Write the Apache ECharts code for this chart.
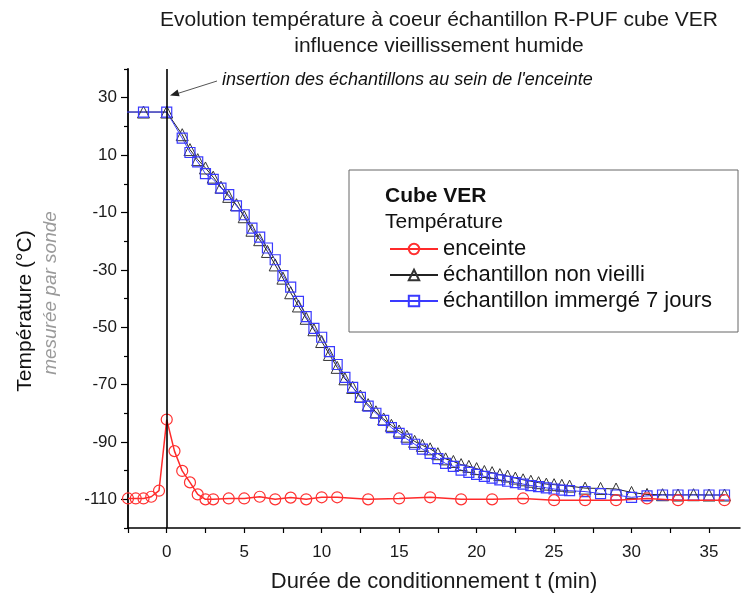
<!DOCTYPE html>
<html>
<head>
<meta charset="utf-8">
<script src="https://cdn.jsdelivr.net/npm/echarts@6/dist/echarts.min.js"></script>
<style>
html,body{margin:0;padding:0;background:#fff;}
#c{width:742px;height:598px;}
</style>
</head>
<body>
<div id="c"></div>
<script>
// ---- data ----
const titleLines = ['Evolution température à coeur échantillon R-PUF cube VER', 'influence vieillissement humide'];
const xTickValues = [-2.5, 0, 2.5, 5, 7.5, 10, 12.5, 15, 17.5, 20, 22.5, 25, 27.5, 30, 32.5, 35];
const xLabelValues = [0, 5, 10, 15, 20, 25, 30, 35];
const yLabelValues = [-110, -90, -70, -50, -30, -10, 10, 30];

const redT = [-2.5,-2,-1.5,-1,-0.5,0,0.5,1,1.5,2,2.5,3,4,5,6,7,8,9,10,11,13,15,17,19,21,23,25,27,29,31,33,36];
const redV = [-109.7,-109.7,-109.7,-109.1,-107.0,-82.2,-93.2,-100.1,-104.1,-108.3,-110.0,-110.0,
  -109.7,-109.7,-109.1,-110.0,-109.4,-110.0,-109.3,-109.3,
  -110.0,-109.7,-109.3,-110.0,-110.0,-109.7,-110.3,-110.3,-110.3,-109.7,-110.3,-110.3];

const sampleT = [-3,-1.5,0,1,1.5,2,2.5,3,3.5,4,4.5,5,5.5,6,6.5,7,7.5,8,8.5,9,9.5,10,10.5,11,11.5,12,12.5,13,13.5,14,14.5,15,15.5,16,16.5,17,17.5,18,18.5,19,19.5,20,20.5,21,21.5,22,22.5,23,23.5,24,24.5,25,25.5,26,27,28,29,30,31,32,33,34,35,36];
const blackV = [25, 25, 25,
  17.1, 11.9, 8.4, 5.5, 2.3, -1.2, -4.4, -7.3, -11.5, -16.2,
  -19.5, -23.6, -28.3, -32.9, -38.0, -42.6, -46.9, -50.9, -55.0, -59.5,
  -64.0, -68.0, -71.0, -74.0, -77.0, -79.5, -82.0, -84.2, -86.2, -88.0,
  -89.8, -91.2, -92.4, -94.1, -95.9, -96.8, -97.9, -98.5, -99.3, -100.3,
  -100.7, -101.4, -101.9, -102.6, -103.2, -103.7, -104.2, -104.7, -104.9, -105.1,
  -105.4,
  -106.1, -106.2, -106.4, -107.6, -108.3, -108.4, -108.5, -108.4, -108.5, -108.5];
const blueV = [25, 25, 25,
  15.9, 10.9, 7.6, 3.5, 1.5, -1.5, -3.8, -7.7, -10.8, -15.5,
  -18.6, -22.4, -26.5, -32.0, -36.0, -41.0, -46.3, -50.4, -53.5, -58.5,
  -63.0, -67.5, -71.0, -74.5, -77.5, -80.0, -82.5, -85.0, -87.0, -89.0,
  -90.8, -92.5, -94.0, -95.8, -97.5, -98.5, -99.8, -100.6, -101.3, -102.0,
  -102.6, -103.2, -103.7, -104.2, -104.7, -105.2, -105.6, -106.0, -106.4, -106.8,
  -107.0,
  -107.3, -108.0, -108.5, -109.3, -108.8, -108.5, -108.5, -108.5, -108.5, -108.5];

const seriesNames = ['enceinte', 'échantillon non vieilli', 'échantillon immergé 7 jours'];

// ---- chart ----
const zip = (a, b) => a.map((v, i) => [v, b[i]]);
const chart = echarts.init(document.getElementById('c'), null, {renderer: 'canvas'});
const FONT = 'Liberation Sans, Arial, sans-serif';

chart.setOption({
  animation: false,
  backgroundColor: '#fff',
  textStyle: {fontFamily: FONT},
  title: {
    text: titleLines.join('\n'),
    left: 434, top: 2, textAlign: 'center',
    textStyle: {fontSize: 21, fontWeight: 'normal', color: '#1a1a1a', lineHeight: 26, fontFamily: FONT}
  },
  grid: {left: 128, right: 2, top: 69, bottom: 70, outerBoundsMode: 'none', containLabel: false},
  xAxis: {
    type: 'value', min: -2.5, max: 37,
    axisLine: {onZero: false, lineStyle: {color: '#000', width: 1.5}},
    axisTick: {customValues: xTickValues, length: 5, lineStyle: {color: '#000', width: 1.2}},
    axisLabel: {customValues: xLabelValues, fontSize: 17, color: '#1a1a1a', margin: 16, fontFamily: FONT},
    splitLine: {show: false},
    name: 'Durée de conditionnement t (min)', nameLocation: 'middle', nameGap: 43,
    nameTextStyle: {fontSize: 22, color: '#1a1a1a', fontFamily: FONT}
  },
  yAxis: [{
    type: 'value', min: -120, max: 40,
    axisLine: {onZero: false, lineStyle: {color: '#000', width: 1.8}},
    axisTick: {customValues: yLabelValues, length: 7, lineStyle: {color: '#000', width: 1.2}},
    axisLabel: {customValues: yLabelValues, fontSize: 17, color: '#1a1a1a', margin: 11, fontFamily: FONT},
    splitLine: {show: false}
  }, {
    type: 'value', min: -120, max: 40, interval: 20, position: 'left',
    axisLine: {show: false, onZero: false},
    axisTick: {length: 4, lineStyle: {color: '#000', width: 1.2}},
    axisLabel: {show: false},
    splitLine: {show: false}
  }],
  legend: {
    data: seriesNames,
    left: 384, top: 233, orient: 'vertical',
    itemWidth: 48, itemHeight: 13, itemGap: 4,
    textStyle: {fontSize: 22, color: '#111', lineHeight: 22, fontFamily: FONT},
    selectedMode: false
  },
  series: [{
    name: seriesNames[0], type: 'line', data: zip(redT, redV),
    symbol: 'circle', symbolSize: 11, z: 3,
    lineStyle: {color: '#ff2a2a', width: 1.5},
    itemStyle: {color: 'rgba(255,255,255,0)', borderColor: '#ff3030', borderWidth: 1.2},
    markLine: {
      silent: true, symbol: ['none', 'none'], label: {show: false},
      lineStyle: {color: '#000', width: 1.6, type: 'solid'},
      data: [{xAxis: 0}]
    }
  }, {
    name: seriesNames[1], type: 'line', data: zip(sampleT, blackV),
    symbol: 'triangle', symbolSize: 12, z: 2,
    lineStyle: {color: '#222', width: 1},
    itemStyle: {color: 'rgba(255,255,255,0)', borderColor: '#333', borderWidth: 1}
  }, {
    name: seriesNames[2], type: 'line', data: zip(sampleT, blueV),
    symbol: 'rect', symbolSize: 10, z: 2,
    lineStyle: {color: '#3a3aff', width: 1},
    itemStyle: {color: 'rgba(255,255,255,0)', borderColor: '#3a3aff', borderWidth: 1.2}
  }],
  graphic: [
    {type: 'rect', shape: {x: 349, y: 170, width: 389, height: 162}, style: {fill: '#fff', stroke: '#666', lineWidth: 1}, z: 1, silent: true},
    {type: 'text', x: 385, y: 196, style: {text: 'Cube VER', font: 'bold 21px ' + FONT, fill: '#111', textVerticalAlign: 'middle'}, z: 5},
    {type: 'text', x: 385, y: 222, style: {text: 'Température', font: '21px ' + FONT, fill: '#111', textVerticalAlign: 'middle'}, z: 5},
    {type: 'text', x: 222, y: 80, style: {text: "insertion des échantillons au sein de l'enceinte", font: 'italic 18px ' + FONT, fill: '#111', textVerticalAlign: 'middle'}, z: 5},
    {type: 'line', shape: {x1: 217, y1: 81, x2: 176, y2: 94}, style: {stroke: '#555', lineWidth: 1}, z: 5},
    {type: 'polygon', shape: {points: [[170, 95.5], [179.6, 96.2], [177.6, 89.5]]}, style: {fill: '#222'}, z: 5},
    {type: 'text', x: 25, y: 311, rotation: Math.PI / 2, style: {text: 'Température (°C)', font: '21px ' + FONT, fill: '#111', textAlign: 'center', textVerticalAlign: 'middle'}, z: 5},
    {type: 'text', x: 51, y: 293, rotation: Math.PI / 2, style: {text: 'mesurée par sonde', font: 'italic 19px ' + FONT, fill: '#9a9a9a', textAlign: 'center', textVerticalAlign: 'middle'}, z: 5}
  ]
});
</script>
</body>
</html>
